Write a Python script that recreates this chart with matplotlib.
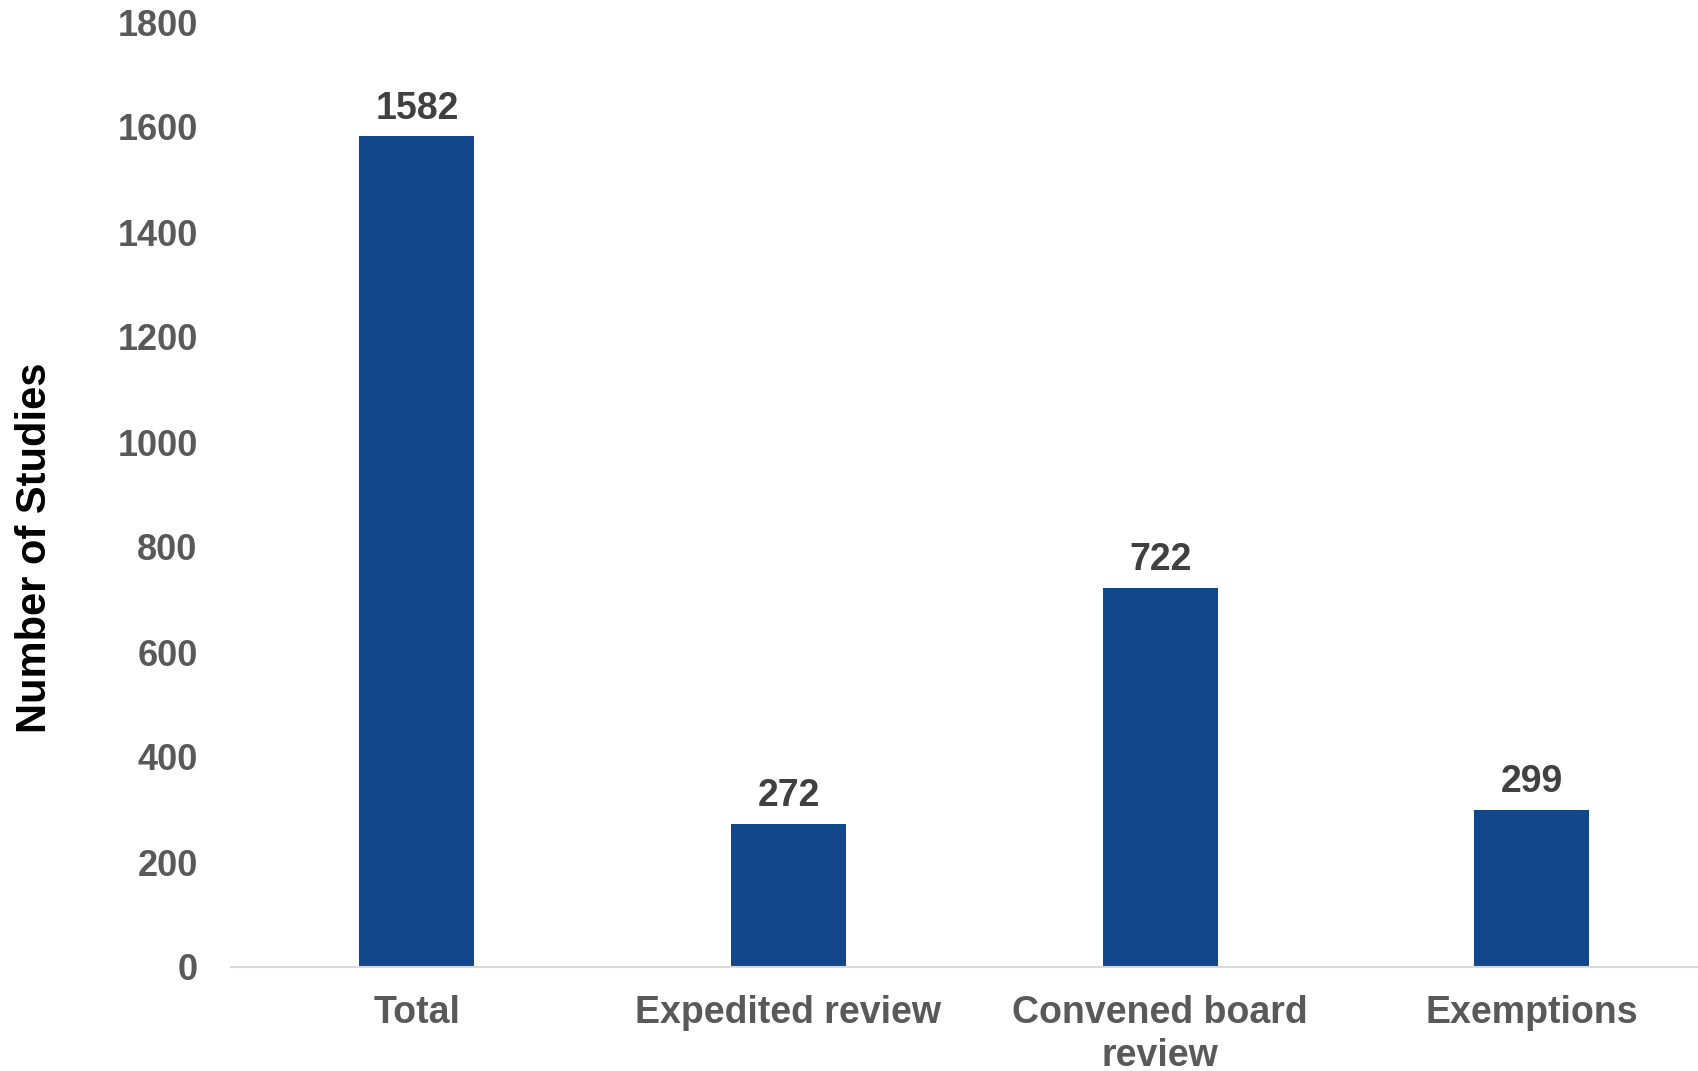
import matplotlib
matplotlib.use("Agg")
import matplotlib.pyplot as plt

categories = ["Total", "Expedited review", "Convened board\nreview", "Exemptions"]
values = [1582, 272, 722, 299]
yticks = [0, 200, 400, 600, 800, 1000, 1200, 1400, 1600, 1800]

plt.rcParams['font.family'] = ['Liberation Sans', 'DejaVu Sans']
plt.rcParams['font.weight'] = 'bold'

fig = plt.figure(figsize=(16.99, 10.71), dpi=100)
ax = fig.add_axes([231/1699, (1071-967)/1071, (1699-231)/1699, (967-22)/1071])

x = list(range(len(categories)))
bars = ax.bar(x, values, width=0.31, color='#13478C', zorder=2)

for xi, v in zip(x, values):
    ax.annotate(str(v), (xi, v), xytext=(0, 7), textcoords='offset points',
                ha='center', va='bottom', fontsize=27, fontweight='bold', color='#404040')

ax.set_xlim(-0.5, 3.45)
ax.set_ylim(0, 1800)
ax.set_yticks(yticks)
ax.set_yticklabels([str(t) for t in yticks], fontsize=26, fontweight='bold', color='#595959')
ax.set_xticks(x)
ax.set_xticklabels(categories, fontsize=27, fontweight='bold', color='#595959', linespacing=1.25)
ax.tick_params(axis='y', length=0, pad=24)
ax.tick_params(axis='x', length=0, pad=20)

for s in ['top', 'right', 'left']:
    ax.spines[s].set_visible(False)
ax.spines['bottom'].set_color('#D9D9D9')
ax.spines['bottom'].set_linewidth(1.5)

ax.set_ylabel("Number of Studies", fontsize=30, fontweight='bold', color='black')
ax.yaxis.set_label_coords(-(231-55)/1468, (967-548)/945)

fig.savefig("out.png", dpi=100)
